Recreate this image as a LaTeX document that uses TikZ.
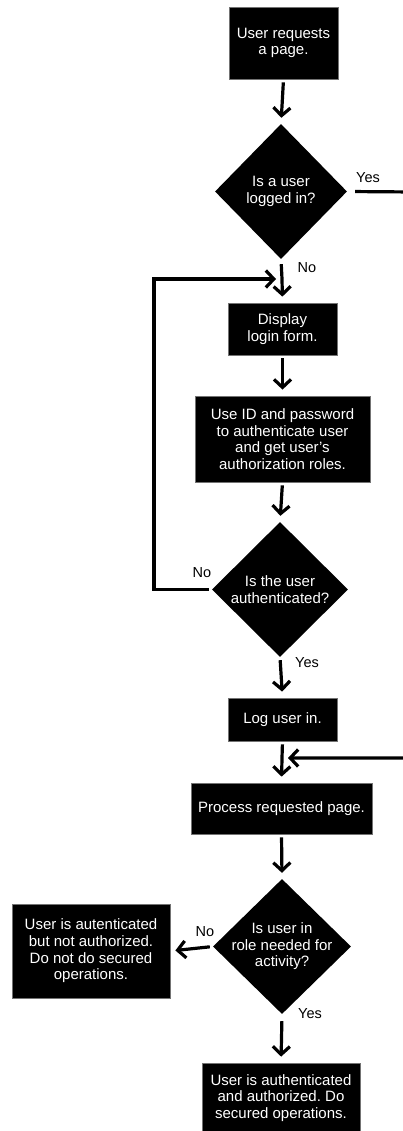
\documentclass[tikz,border=0pt]{standalone}
\usepackage{fontspec}
\setmainfont{Liberation Sans}
\usetikzlibrary{shapes.geometric,arrows.meta}

\begin{document}
\frenchspacing
\begin{tikzpicture}[x=1pt, y=-1pt,
  txt/.style={text=white, align=center, font=\fontsize{15}{16.6}\selectfont},
  box/.style={txt, rectangle, fill=black, draw=black!55, line width=0.8pt, inner sep=0pt},
  decision/.style={diamond, fill=black, inner sep=0pt, minimum width=#1, minimum height=135pt},
  decision/.default=134pt,
  flow/.style={line width=3.2pt, -{Straight Barb[length=8pt,width=17pt]},
               shorten <=3pt, shorten >=6pt},
  lbl/.style={font=\fontsize{14.5}{16}\selectfont, inner sep=0pt}
]
\useasboundingbox (0,0) rectangle (403,1131);

% process steps and decisions
\node[box, minimum width=109pt, minimum height=72pt] (req) at (283.5,43)
  {User requests\\a page.};
\node[decision=132pt, label={[txt]center:{Is a user\\logged in?}}] (q1) at (281,191.5) {};
\coordinate (j1) at (282,279);
\node[box, minimum width=109pt, minimum height=52pt] (login) at (282.5,329)
  {Display\\login form.};
\node[box, minimum width=175pt, minimum height=86pt] (auth) at (282.5,439)
  {Use ID and password\\to authenticate user\\and get user's\\authorization roles.};
\node[decision=136pt, label={[txt]center:{Is the user\\authenticated?}}] (q2) at (280,589.5) {};
\node[box, minimum width=109pt, minimum height=43pt] (logged) at (282.5,719.5)
  {Log user in.};
\coordinate (j2) at (282,758);
\node[box, minimum width=181pt, minimum height=51pt] (process) at (281.5,808.5)
  {Process requested page.};
\node[decision=138pt, label={[txt]center:{Is user in\\role needed for\\activity?}}] (q3) at (282,946.5) {};
\node[box, minimum width=158pt, minimum height=94pt] (deny) at (91,951)
  {User is autenticated\\but not authorized.\\Do not do secured\\operations.};
\node[box, minimum width=158pt, minimum height=70pt] (grant) at (281,1098)
  {User is authenticated\\and authorized. Do\\secured operations.};

% connectors
\draw[flow] (req.south) -- (q1.north);
\draw[flow, shorten <=5pt] (q1.south) -- (j1) -- (login.north);
\draw[flow] (login.south) -- (auth.north);
\draw[flow] (auth.south) -- (q2.north);
\draw[flow] (q2.west) -- (154,589.5) |- (j1);
\draw[flow] (q2.south) -- (logged.north);
\draw[flow] (logged.south) -- (j2) -- (process.north);
\draw[flow, shorten <=8pt] (q1.east) -- (414,192) |- (j2);
\draw[flow] (process.south) -- (q3.north);
\draw[flow, shorten >=5pt] (q3.west) -- (deny.east);
\draw[flow, shorten <=7pt] (q3.south) -- (grant.north);

% branch labels
\node[lbl] at (368,178) {Yes};
\node[lbl] at (307,268) {No};
\node[lbl] at (202,573) {No};
\node[lbl] at (307,663) {Yes};
\node[lbl] at (205,932) {No};
\node[lbl] at (310,1014) {Yes};
\end{tikzpicture}
\end{document}
